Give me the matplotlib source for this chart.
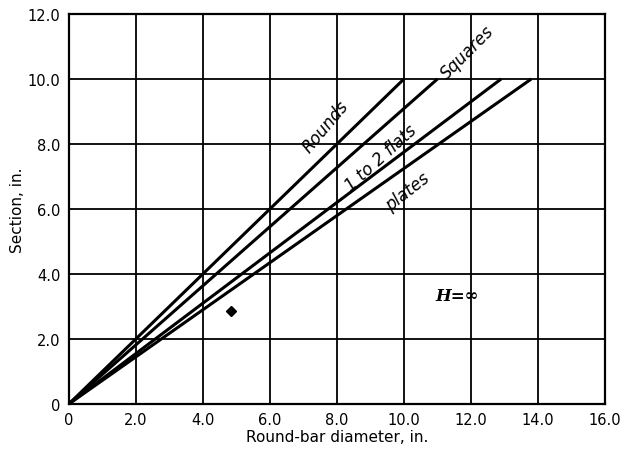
import matplotlib
matplotlib.use("Agg")
import matplotlib.pyplot as plt
import numpy as np

plt.rcParams['font.family'] = ['DejaVu Sans']

# end points (round-bar diameter at section = 10 in.)
series = ["Rounds", "Squares", "1 to 2 flats", "plates"]
end_x = [10.0, 11.0, 12.9, 13.8]
end_y = [10.0, 10.0, 10.0, 10.0]

# label placement (data coords) and rotation
label_x = [7.65, 11.9, 9.3, 10.1]
label_y = [8.55, 10.85, 7.6, 6.55]
label_rot = [50, 45, 42, 38]

xticks = [0, 2, 4, 6, 8, 10, 12, 14, 16]
yticks = [0, 2, 4, 6, 8, 10, 12]
xtick_labels = ["0", "2.0", "4.0", "6.0", "8.0", "10.0", "12.0", "14.0", "16.0"]
ytick_labels = ["0", "2.0", "4.0", "6.0", "8.0", "10.0", "12.0"]

fig = plt.figure(figsize=(6.2, 4.52), dpi=100)
ax = fig.add_axes([0.111, 0.104, 0.865, 0.863])

for xe, ye in zip(end_x, end_y):
    ax.plot([0, xe], [0, ye], color='black', lw=2.2, solid_capstyle='butt')

for name, lx, ly, r in zip(series, label_x, label_y, label_rot):
    ax.text(lx, ly, name, rotation=r, ha='center', va='center',
            fontsize=12, style='italic', color='black')

ax.text(11.6, 3.35, "H=∞", fontsize=12, ha='center', va='center',
        style='italic', fontweight='bold', family='DejaVu Serif')

# small mark on the chart
ax.plot([4.83], [2.86], marker='D', color='black', markersize=5)

ax.set_xlim(0, 16)
ax.set_ylim(0, 12)
ax.set_xticks(xticks)
ax.set_yticks(yticks)
ax.set_xticklabels(xtick_labels, fontsize=10.5)
ax.set_yticklabels(ytick_labels, fontsize=10.5)
ax.tick_params(length=0, pad=6)
ax.grid(True, color='black', lw=1.3)
ax.set_axisbelow(True)
for s in ax.spines.values():
    s.set_linewidth(1.6)

ax.set_xlabel("Round-bar diameter, in.", fontsize=11, labelpad=1)
ax.set_ylabel("Section, in.", fontsize=11, labelpad=2)

fig.savefig("out.png", dpi=100)
